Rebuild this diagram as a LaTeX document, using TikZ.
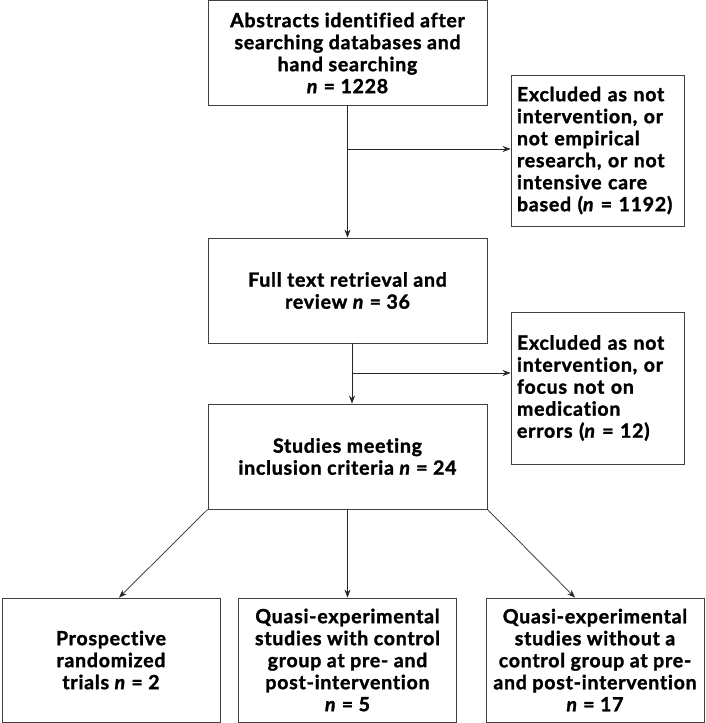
\documentclass[tikz,border=0pt]{standalone}
\usepackage{fontspec}
\setmainfont{Lato}[RawFeature={-liga}, LetterSpace=4, BoldFeatures={FakeBold=1.6}, BoldItalicFeatures={FakeBold=1.6}]
\usetikzlibrary{positioning, arrows.meta}

\tikzset{
  box/.style={draw=black!75, line width=0.8pt, align=center, inner sep=6pt,
    font=\fontsize{19.5}{22}\selectfont\bfseries},
  mainbox/.style={box, minimum width=279pt, minimum height=105pt},
  exbox/.style={box, align=left, text width=161pt, inner xsep=6pt, minimum height=152pt},
  endbox/.style={box, minimum width=218pt, minimum height=124pt, inner xsep=1pt},
  link/.style={draw=black!85, line width=0.7pt, -{Stealth[length=8pt, width=6pt]}}
}

\begin{document}
\begin{tikzpicture}[x=1pt, y=-1pt]
  \useasboundingbox (0,0) rectangle (706,723);
  % main column
  \node[mainbox] (abstracts) at (347.5,53)
    {Abstracts identified after\\searching databases and\\hand searching\\\textit{n} = 1228};
  \node[mainbox] (fulltext) at (347.5,290.5)
    {Full text retrieval and\\review \textit{n} = 36};
  \node[mainbox] (included) at (347.5,456.5)
    {Studies meeting\\inclusion criteria \textit{n} = 24};
  % exclusions
  \node[exbox, minimum height=151pt] (excl1) at (597.5,150.5)
    {Excluded as not\\intervention, or\\not empirical\\research, or not\\intensive care\\based~(\textit{n}~=~1192)};
  \node[exbox] (excl2) at (597.5,388)
    {Excluded as not\\intervention, or\\focus not on\\medication\\errors (\textit{n} = 12)};
  % study designs
  \node[endbox] (rct) at (111,660)
    {Prospective\\randomized\\trials \textit{n} = 2};
  \node[endbox] (quasi1) at (347.5,660)
    {Quasi-experimental\\studies with control\\group at pre- and\\post-intervention\\\textit{n} = 5};
  \node[endbox] (quasi2) at (595,660)
    {Quasi-experimental\\studies without a\\control group at pre-\\and post-intervention\\\textit{n} = 17};

  \coordinate (split1) at (abstracts.south |- 0,149);
  \coordinate (split2) at ([xshift=4.5pt]fulltext.south |- 0,373);

  \draw[link] (abstracts.south) -- (fulltext.north);
  \draw[link] (split1) -- (split1 -| excl1.west);
  \draw[link] ([xshift=4.5pt]fulltext.south) -- ([xshift=4.5pt]included.north);
  \draw[link] (split2) -- (split2 -| excl2.west);
  \draw[link] (included.south west) -- ([xshift=8pt]rct.north);
  \draw[link] (included.south) -- (quasi1.north);
  \draw[link] (included.south east) -- ([xshift=-20pt]quasi2.north);
\end{tikzpicture}
\end{document}
